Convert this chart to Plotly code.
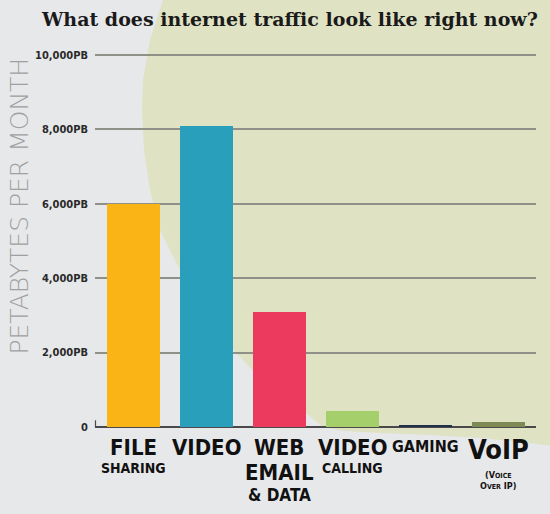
import plotly.graph_objects as go

# ---- data ----
categories = ["File sharing", "Video", "Web, email & data", "Video calling", "Gaming", "VoIP"]
values_pb = [6000, 8100, 3100, 430, 65, 125]
bar_colors = ["#fbb416", "#2a9fbc", "#ec3a5f", "#a5cf6b", "#1f3148", "#7e8a56"]
tick_vals = [0, 2000, 4000, 6000, 8000, 10000]
tick_text = ["0", "2,000PB", "4,000PB", "6,000PB", "8,000PB", "10,000PB"]
label_line1 = ["FILE", "VIDEO", "WEB", "VIDEO", "GAMING", "VoIP"]
label_line2 = ["SHARING", "", "EMAIL", "CALLING", "", "(V<span style='font-size:7px'>OICE</span>"]
label_line3 = ["", "", "&amp; DATA", "", "", "O<span style='font-size:7px'>VER</span> IP)"]
title_text = "What does internet traffic look like right now?"
y_title = "PETABYTES PER MONTH"

W, H = 550, 514
def px(x): return x / W
def py(y): return 1 - y / H

Y_MAX = 10080  # small headroom so the top gridline is drawn
y0_px, y10k_px = 427, 55
ytop_px = y0_px - (y0_px - y10k_px) * Y_MAX / 10000

fig = go.Figure()
fig.add_trace(go.Bar(
    x=list(range(len(categories))), y=values_pb,
    marker=dict(color=bar_colors, line=dict(width=0)),
    width=0.727, hovertext=categories, hoverinfo="text+y",
))

# background blob (decorative)
blob = [(175, -5), (163, 0), (150, 40), (143, 80), (142, 110), (144, 150), (150, 190),
        (160, 230), (180, 270), (205, 310), (232, 348), (252, 370), (280, 395),
        (307, 414), (323, 427), (345, 431), (380, 433), (430, 435), (480, 438),
        (520, 442), (555, 446), (560, 446), (560, -5)]
path = "M " + " L ".join(f"{px(x):.4f},{py(y):.4f}" for x, y in blob) + " Z"
shapes = [dict(type="path", path=path, xref="paper", yref="paper",
               fillcolor="#dfe2c3", line=dict(width=0), layer="below"),
          # small tick at the origin
          dict(type="line", xref="paper", yref="y", x0=px(95.5), x1=px(95.5), y0=0, y1=180,
               line=dict(color="#4a4a4a", width=1.2))]

annotations = []
annotations.append(dict(text=f"<b>{title_text}</b>", x=px(289), y=py(19), xref="paper", yref="paper",
                        showarrow=False, xanchor="center", yanchor="middle",
                        font=dict(family="DejaVu Sans" if False else "DejaVu Serif", size=19, color="#1a1a1a")))
annotations.append(dict(text=y_title, x=px(18.5), y=py(206), xref="paper", yref="paper",
                        showarrow=False, textangle=-90, xanchor="center", yanchor="middle",
                        font=dict(family="DejaVu Sans", size=25, color="#a0a0a0", weight=200)))

narrow = "DejaVu Sans Condensed, DejaVu Sans"
for i in range(len(categories)):
    s1 = {4: 16, 5: 27}.get(i, 22)
    y1 = {4: 446, 5: 449}.get(i, 447)
    annotations.append(dict(text=label_line1[i], x=i, y=py(y1), xref="x", yref="paper",
                            showarrow=False, xanchor="center", yanchor="middle",
                            font=dict(family=narrow, size=s1, color="#111111", weight="bold")))
    if label_line2[i]:
        s2 = {2: 22, 5: 9}.get(i, 14)
        y2 = {2: 472, 5: 475}.get(i, 468)
        annotations.append(dict(text=label_line2[i], x=i, y=py(y2), xref="x", yref="paper",
                                showarrow=False, xanchor="center", yanchor="middle",
                                font=dict(family=narrow, size=s2, color="#111111", weight="bold")))
    if label_line3[i]:
        s3 = {2: 17, 5: 9}.get(i, 14)
        y3 = {2: 495, 5: 486}.get(i, 490)
        annotations.append(dict(text=label_line3[i], x=i, y=py(y3), xref="x", yref="paper",
                                showarrow=False, xanchor="center", yanchor="middle",
                                font=dict(family=narrow, size=s3, color="#111111", weight="bold")))

fig.update_layout(
    template="none",
    width=W, height=H,
    margin=dict(l=0, r=0, t=0, b=0, pad=0, autoexpand=False),
    paper_bgcolor="#e7e8ea", plot_bgcolor="rgba(0,0,0,0)",
    showlegend=False, bargap=0,
    shapes=shapes, annotations=annotations,
    xaxis=dict(domain=[px(95), px(536)], range=[-0.528, 5.52], automargin=False,
               showticklabels=False, showgrid=False, zeroline=False, showline=False,
               ticks="", fixedrange=True),
    yaxis=dict(domain=[py(y0_px), py(ytop_px)], range=[0, Y_MAX], automargin=False,
               tickvals=tick_vals, ticktext=tick_text, ticks="",
               tickfont=dict(family=narrow, size=11, color="#2a2a2a", weight="bold"),
               ticklabelstandoff=6,
               showgrid=True, gridcolor="#8f9088", gridwidth=1.5,
               zeroline=True, zerolinecolor="#4a4a4a", zerolinewidth=1.5,
               showline=False, fixedrange=True),
)

fig.write_html(
    "out.html",
    config={"displayModeBar": False},
    post_script="document.body.style.margin='0';document.body.style.overflow='hidden';"
                "document.body.style.background='#e7e8ea';",
)
